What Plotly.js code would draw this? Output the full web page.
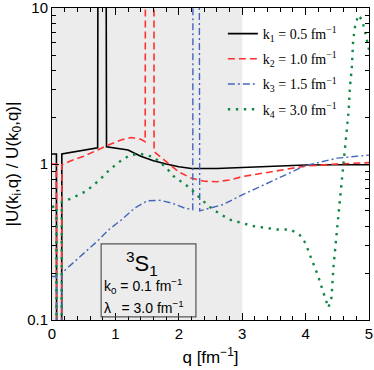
<!DOCTYPE html>
<html>
<head>
<meta charset="utf-8">
<script src="https://cdn.plot.ly/plotly-3.0.1.min.js"></script>
<style>
  body { margin: 0; background: #fff; }
  #chart { width: 374px; height: 370px; }
</style>
</head>
<body>
<div id="chart"></div>
<script>
// |U(k_i,q) / U(k_0,q)| for 3S1, k0 = 0.1 fm^-1, lambda = 3.0 fm^-1
const seriesNames = [
  "k<sub>1</sub> = 0.5 fm<sup>\u22121</sup>",
  "k<sub>2</sub> = 1.0 fm<sup>\u22121</sup>",
  "k<sub>3</sub> = 1.5 fm<sup>\u22121</sup>",
  "k<sub>4</sub> = 3.0 fm<sup>\u22121</sup>"
];

const q1 = [0, 0.07, 0.075, 0.15, 0.155, 0.3, 0.5, 0.72, 0.727, 0.85, 0.86, 1.0, 1.2, 1.4, 1.6, 1.8, 2.0, 2.2, 2.4, 2.6, 3.0, 3.5, 4.0, 4.5, 5.0];
const r1 = [1.16, 1.16, 0.01, 0.01, 1.16, 1.19, 1.23, 1.27, 100, 100, 1.29, 1.27, 1.23, 1.12, 1.05, 1.0, 0.96, 0.935, 0.93, 0.935, 0.95, 0.97, 0.985, 0.99, 0.99];

const q2 = [0, 0.07, 0.075, 0.15, 0.155, 0.3, 0.5, 0.7, 0.9, 1.1, 1.25, 1.4, 1.47, 1.475, 1.607, 1.61, 1.8, 2.0, 2.2, 2.4, 2.6, 2.8, 3.0, 3.5, 4.0, 4.5, 5.0];
const r2 = [1.0, 1.0, 0.01, 0.01, 0.99, 1.05, 1.12, 1.22, 1.33, 1.43, 1.48, 1.44, 1.39, 100, 100, 1.2, 1.04, 0.89, 0.81, 0.775, 0.77, 0.79, 0.83, 0.9, 0.97, 1.0, 1.02];

const q3 = [0, 0.07, 0.075, 0.15, 0.155, 0.3, 0.5, 0.7, 0.9, 1.1, 1.3, 1.5, 1.7, 1.9, 2.1, 2.22, 2.225, 2.32, 2.33, 2.5, 2.7, 3.0, 3.5, 4.0, 4.5, 5.0];
const r3 = [0.19, 0.19, 0.01, 0.01, 0.2, 0.225, 0.267, 0.316, 0.38, 0.44, 0.52, 0.58, 0.585, 0.56, 0.52, 0.51, 100, 100, 0.5, 0.52, 0.55, 0.634, 0.787, 0.977, 1.09, 1.14];

const q4 = [0, 0.07, 0.075, 0.15, 0.155, 0.3, 0.54, 0.75, 0.91, 1.1, 1.23, 1.4, 1.6, 1.8, 1.91, 2.05, 2.18, 2.36, 2.54, 2.8, 3.17, 3.55, 3.76, 3.91, 4.0, 4.07, 4.2, 4.28, 4.36, 4.41, 4.44, 4.49, 4.52, 4.6, 4.62, 4.68, 4.7, 4.73, 4.75, 4.78, 4.83, 4.89, 4.94, 5.0];
const r4 = [0.53, 0.54, 0.01, 0.01, 0.57, 0.6, 0.67, 0.79, 0.92, 1.06, 1.14, 1.16, 1.11, 0.95, 0.84, 0.76, 0.7, 0.59, 0.51, 0.44, 0.4, 0.38, 0.38, 0.35, 0.31, 0.26, 0.19, 0.15, 0.12, 0.14, 0.22, 0.36, 0.48, 1.06, 1.36, 2.22, 3.13, 4.2, 6.2, 7.6, 9.0, 8.4, 7.0, 5.4];

const xTicks = [0, 1, 2, 3, 4, 5];
const yTicks = [0.1, 1, 10];
const yTickText = ["0.1", "1", "10"];
const yMinor = [0.2, 0.3, 0.4, 0.5, 0.6, 0.7, 0.8, 0.9, 2, 3, 4, 5, 6, 7, 8, 9];

const styles = [
  { color: "#000000", width: 1.6, dash: "solid" },
  { color: "#ff3030", width: 1.6, dash: "7px,4px" },
  { color: "#4466bb", width: 1.4, dash: "7px,3px,2px,3px" },
  { color: "#118844", width: 2.4, dash: "2.4px,5.6px" }
];

const qs = [q1, q2, q3, q4];
const rs = [r1, r2, r3, r4];

const traces = qs.map((q, i) => ({
  x: q,
  y: rs[i],
  type: "scatter",
  mode: "lines",
  name: seriesNames[i],
  legendgroup: "g" + i,
  line: { color: styles[i].color, width: styles[i].width, dash: styles[i].dash },
  hoverinfo: "skip"
}));

const layout = {
  width: 374,
  height: 370,
  margin: { l: 52, r: 5, t: 8, b: 50 },
  paper_bgcolor: "#ffffff",
  plot_bgcolor: "#ffffff",
  font: { family: "Liberation Sans, Arial, sans-serif", color: "#000", size: 15 },
  showlegend: true,
  legend: {
    x: 0.539, y: 0.968, xanchor: "left", yanchor: "top",
    bgcolor: "rgba(0,0,0,0)",
    font: { family: "Liberation Serif, Times New Roman, serif", size: 14, color: "#000" },
    tracegroupgap: 4,
    itemwidth: 30
  },
  xaxis: {
    range: [0, 5],
    tickvals: xTicks,
    ticks: "inside", ticklen: 7, tickcolor: "#000",
    minor: { dtick: 0.2, ticks: "inside", ticklen: 4, tickcolor: "#000" },
    showline: true, linecolor: "#000", linewidth: 1, mirror: "ticks",
    showgrid: false, zeroline: false,
    tickfont: { size: 15 },
    title: { text: "q [fm<sup>\u22121</sup>]", font: { size: 17 }, standoff: 10 }
  },
  yaxis: {
    type: "log",
    range: [-1.0004, 1.0004],
    tickvals: yTicks, ticktext: yTickText,
    ticks: "inside", ticklen: 7, tickcolor: "#000",
    ticklabeloverflow: "allow",
    minor: { tickvals: yMinor, ticks: "inside", ticklen: 4, tickcolor: "#000" },
    showline: true, linecolor: "#000", linewidth: 1, mirror: "ticks",
    showgrid: false, zeroline: false,
    tickfont: { size: 15 },
    title: { text: "|U(k<sub>i</sub>,q) / U(k<sub>0</sub>,q)|", font: { size: 17 }, standoff: 4 }
  },
  shapes: [
    { type: "rect", xref: "x", yref: "paper", x0: 0, x1: 3, y0: 0, y1: 1,
      fillcolor: "#ececec", line: { width: 0 }, layer: "below" },
    { type: "rect", xref: "paper", yref: "paper", x0: 0.155, x1: 0.454, y0: 0.01, y1: 0.244,
      fillcolor: "rgba(0,0,0,0)", line: { color: "#555", width: 1.2 } }
  ],
  annotations: [
    { xref: "paper", yref: "paper", x: 0.285, y: 0.18, xanchor: "center", yanchor: "middle",
      text: "<sup>3</sup>S<sub>1</sub>", showarrow: false, font: { size: 22 } },
    { xref: "paper", yref: "paper", x: 0.158, y: 0.11, xanchor: "left", yanchor: "middle",
      text: "k<sub>0</sub> = 0.1 fm<sup>\u22121</sup>", showarrow: false, font: { size: 14 } },
    { xref: "paper", yref: "paper", x: 0.158, y: 0.038, xanchor: "left", yanchor: "middle",
      text: "\u03bb<sub> </sub>\u00a0 = 3.0 fm<sup>\u22121</sup>", showarrow: false, font: { size: 14 } }
  ]
};

Plotly.newPlot("chart", traces, layout, { displayModeBar: false, staticPlot: true });
</script>
</body>
</html>
